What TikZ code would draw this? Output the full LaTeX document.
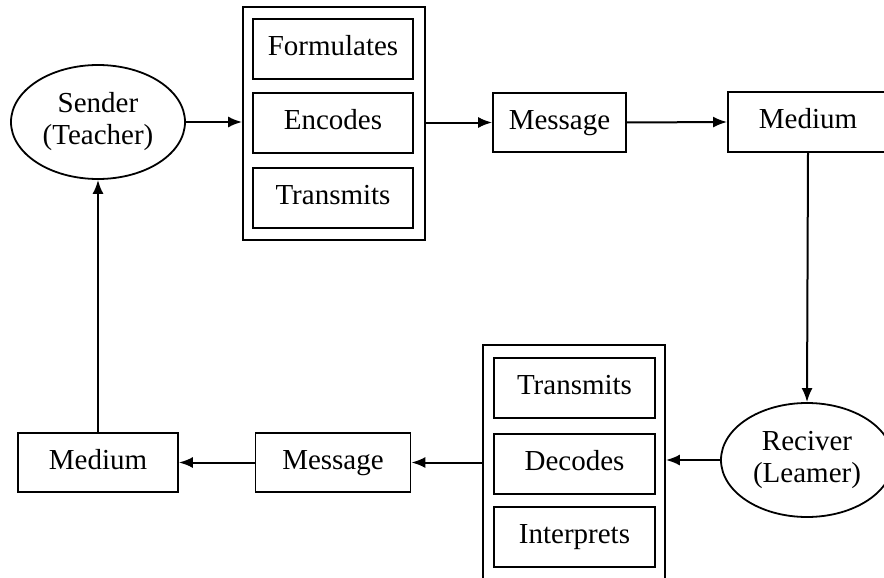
\documentclass[tikz,border=0pt]{standalone}
\usepackage{fontspec}
\setmainfont{Liberation Serif}
\usetikzlibrary{shapes.geometric,arrows.meta}
\begin{document}
\begin{tikzpicture}[x=1pt,y=-1pt,
  every node/.style={font=\fontsize{29}{32}\selectfont},
  box/.style={draw,line width=1.8pt,rectangle,inner sep=0pt,
    text height=20pt,text depth=7pt},
  grp/.style={draw,line width=1.8pt,rectangle,inner sep=0pt},
  oval/.style={draw,line width=1.8pt,ellipse,inner sep=0pt,align=center,
    minimum width=174pt,minimum height=114pt},
  link/.style={line width=2pt,-{Latex[length=14pt,width=11pt]}}]
\path[use as bounding box,clip] (0,0) rectangle (884,578);

% sender side
\node[oval] (sender) at (98,122) {Sender\\(Teacher)};

% first processing group
\node[grp,minimum width=182pt,minimum height=233pt] (g1) at (334,123.5) {};
\node[box,minimum width=160pt,minimum height=60pt] (form) at (333,49) {Formulates};
\node[box,minimum width=160pt,minimum height=60pt] (enc) at (333,123) {Encodes};
\node[box,minimum width=160pt,minimum height=60pt] (trans1) at (333,198) {Transmits};

\node[box,minimum width=133pt,minimum height=59pt] (msg1) at (559.5,122.5) {Message};
\node[box,minimum width=160pt,minimum height=60pt] (med1) at (808,122) {Medium};

% receiver side
\node[oval,minimum width=172pt] (rec) at (807,460) {Reciver\\(Leamer)};

% second processing group
\node[grp,minimum width=182pt,minimum height=250pt] (g2) at (574,470) {};
\node[box,minimum width=161pt,minimum height=60pt] (trans2) at (574.5,388) {Transmits};
\node[box,minimum width=161pt,minimum height=60pt] (dec) at (574.5,464) {Decodes};
\node[box,minimum width=161pt,minimum height=60pt] (intp) at (574.5,537) {Interprets};

\node[box,minimum width=155pt,minimum height=59pt] (msg2) at (333,462.5) {Message};
\node[box,minimum width=160pt,minimum height=59pt] (med2) at (98,462.5) {Medium};

% connectors
\draw[link] (sender.east) -- (g1.west |- sender.east);
\draw[link] (g1.east |- msg1.west) -- (msg1.west);
\draw[link] (msg1.east) -- (med1.west);
\draw[link] (med1.south) -- (rec.north);
\draw[link] (rec.west) -- (g2.east |- rec.west);
\draw[link] (g2.west |- msg2.east) -- (msg2.east);
\draw[link] (msg2.west) -- (med2.east);
\draw[link] (med2.north) -- (sender.south);
\end{tikzpicture}
\end{document}
